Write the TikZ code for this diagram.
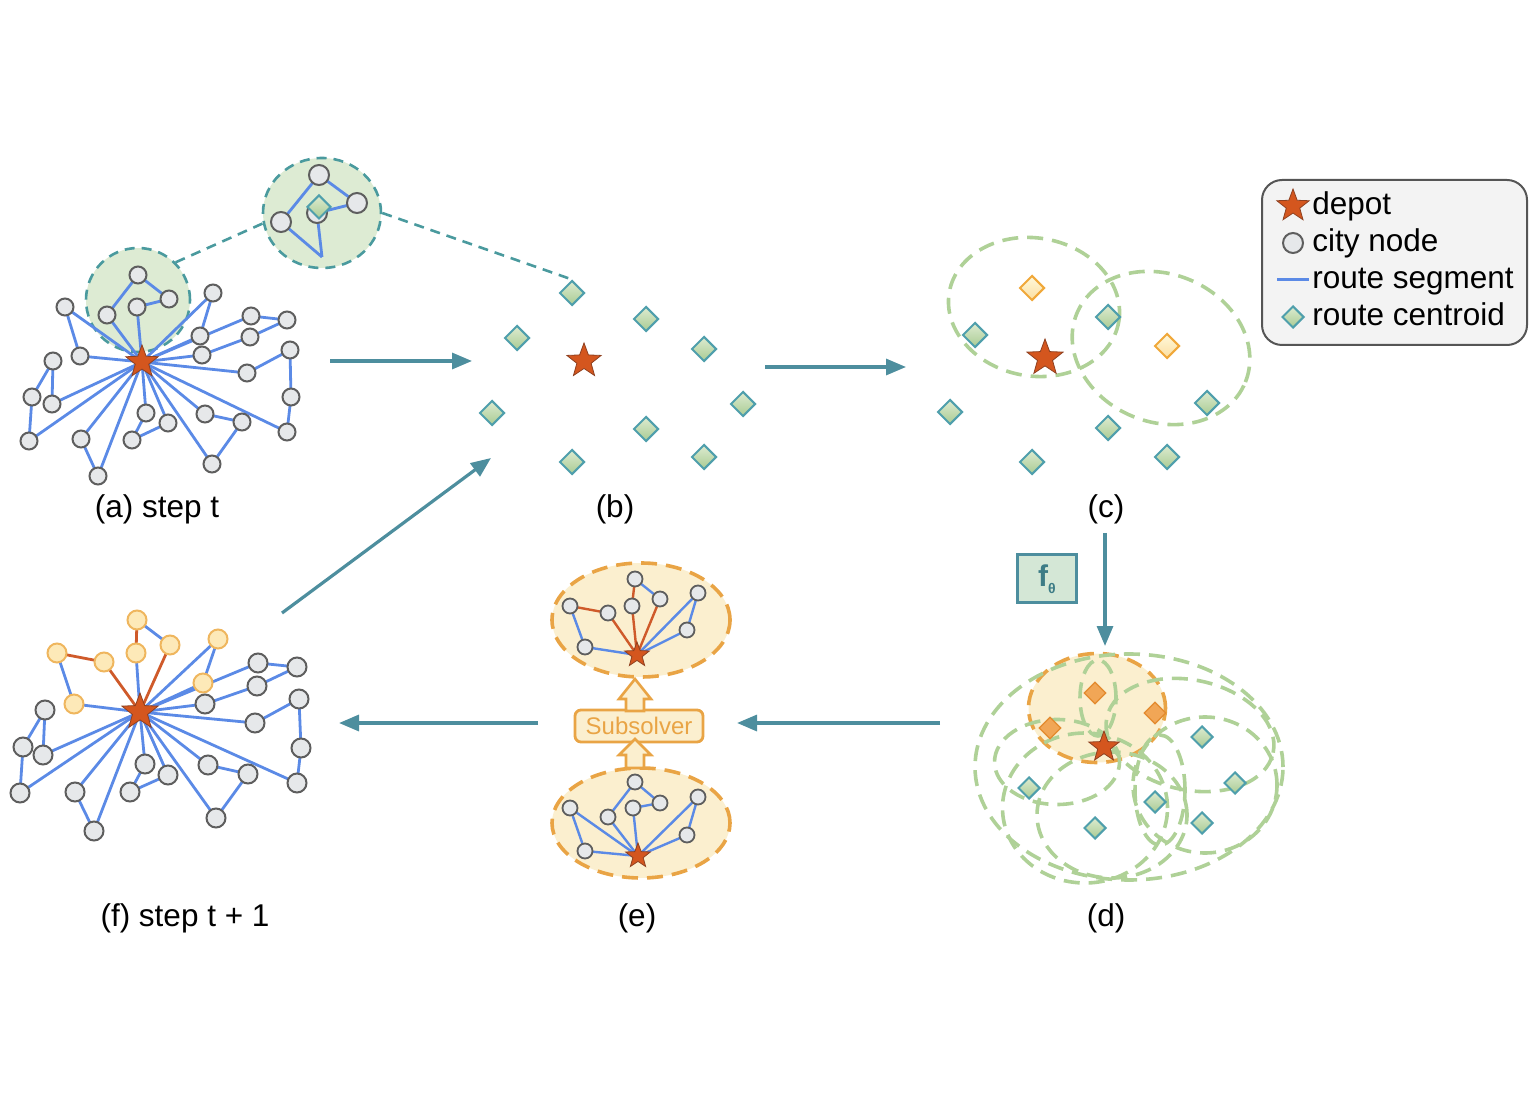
\documentclass[tikz,border=0pt]{standalone}
\usepackage{fontspec}
\setmainfont{Liberation Sans}
\usetikzlibrary{shapes.geometric,arrows.meta}
\pgfdeclarelayer{back}
\pgfdeclarelayer{bg}
\pgfsetlayers{back,bg,main}
\definecolor{flowc}{HTML}{4D8E9E}
\definecolor{routeblue}{HTML}{5B8AE6}
\definecolor{redroute}{HTML}{CF5A2A}
\definecolor{starfill}{HTML}{D4561E}
\definecolor{stardraw}{HTML}{8E4020}
\definecolor{cityfill}{HTML}{E6E8EA}
\definecolor{citydraw}{HTML}{5E5E5E}
\definecolor{dtop}{HTML}{DDEBD0}
\definecolor{dbot}{HTML}{A9CB93}
\definecolor{ddraw}{HTML}{4F9FAC}
\definecolor{clgreen}{HTML}{DDEBD3}
\definecolor{cldash}{HTML}{4A9A9E}
\definecolor{lgdash}{HTML}{AFD197}
\definecolor{ofill}{HTML}{FBEFCF}
\definecolor{odraw}{HTML}{E9A445}
\definecolor{lotop}{HTML}{FFF8DC}
\definecolor{lobot}{HTML}{FBDFA0}
\definecolor{lodraw}{HTML}{F0A83A}
\definecolor{dofill}{HTML}{F1A656}
\definecolor{dodraw}{HTML}{E38A2E}
\definecolor{ocfill}{HTML}{FDE9B8}
\definecolor{ocdraw}{HTML}{EFB65E}
\definecolor{legfill}{HTML}{F3F3F3}
\definecolor{legdraw}{HTML}{555555}
\definecolor{fbfill}{HTML}{D4E7D6}
\definecolor{fbtext}{HTML}{3C7C86}
\begin{document}
\begin{tikzpicture}[x=0.5pt,y=-0.5pt,
  city/.style={circle,draw=citydraw,fill=cityfill,line width=1pt,minimum size=8.5pt,inner sep=0pt},
  citye/.style={city,minimum size=7.5pt,line width=0.9pt},
  cityf/.style={city,minimum size=9.5pt},
  cityo/.style={cityf,draw=ocdraw,fill=ocfill},
  cityi/.style={city,minimum size=10pt},
  depot/.style={star,star points=5,star point ratio=2.4,fill=starfill,draw=stardraw,line width=0.4pt,inner sep=0pt,minimum size=#1},
  depot/.default=16pt,
  cent/.style={diamond,aspect=1,inner sep=0pt,minimum size=#1,draw=ddraw,line width=1pt,top color=dtop,bottom color=dbot},
  cent/.default=12.5pt,
  centlo/.style={diamond,aspect=1,inner sep=0pt,minimum size=12.5pt,draw=lodraw,line width=1pt,top color=lotop,bottom color=lobot},
  centdo/.style={diamond,aspect=1,inner sep=0pt,minimum size=11pt,draw=dodraw,line width=0.6pt,fill=dofill},
  route/.style={draw=routeblue,line width=1.4pt},
  rroute/.style={draw=redroute,line width=1.4pt},
  flow/.style={draw=flowc,line width=1.6pt,-{Triangle[length=10pt,width=8pt]}},
  gdash/.style={ellipse,draw=lgdash,line width=1.8pt,dash pattern=on 8pt off 4.5pt,inner sep=0pt},
  tdash/.style={draw=cldash,line width=1.3pt,dash pattern=on 5pt off 3.5pt},
  lbl/.style={font=\fontsize{15.75}{18}\selectfont,anchor=base,inner sep=0pt},
  legt/.style={font=\fontsize{15.75}{18}\selectfont,anchor=base west,inner sep=0pt},
  blockarr/.style={draw=odraw,fill=ofill,line width=1.3pt,line join=miter}
]
\useasboundingbox (0,0) rectangle (1535,1095);

% ================= (a) =================
\begin{pgfonlayer}{back}
\node[circle,fill=clgreen,draw=cldash,line width=1.3pt,dash pattern=on 5pt off 3.5pt,minimum size=52pt,inner sep=0pt] (acl) at (138,300) {};
\node[ellipse,fill=clgreen,draw=cldash,line width=1.3pt,dash pattern=on 5pt off 3.5pt,minimum width=59pt,minimum height=55pt,inner sep=0pt] (icl) at (322,213) {};
\end{pgfonlayer}
\node[depot=17pt] (as) at (142,362) {};
\node[city] (a1) at (138,275) {};
\node[city] (a2) at (169,299) {};
\node[city] (a3) at (137,307) {};
\node[city] (a4) at (107,315) {};
\node[city] (a5) at (65,307) {};
\node[city] (a6) at (80,356) {};
\node[city] (a7) at (53,361) {};
\node[city] (a8) at (32,397) {};
\node[city] (a9) at (52,404) {};
\node[city] (a10) at (29,441) {};
\node[city] (a11) at (81,439) {};
\node[city] (a12) at (98,476) {};
\node[city] (a13) at (146,413) {};
\node[city] (a14) at (168,423) {};
\node[city] (a15) at (132,440) {};
\node[city] (a16) at (205,414) {};
\node[city] (a17) at (242,422) {};
\node[city] (a18) at (212,464) {};
\node[city] (a19) at (213,293) {};
\node[city] (a20) at (200,336) {};
\node[city] (a21) at (202,355) {};
\node[city] (a22) at (251,316) {};
\node[city] (a23) at (287,320) {};
\node[city] (a24) at (250,337) {};
\node[city] (a25) at (290,350) {};
\node[city] (a26) at (247,373) {};
\node[city] (a27) at (291,397) {};
\node[city] (a28) at (287,432) {};
\begin{pgfonlayer}{bg}
\foreach \u/\v in {as/a3,a3/a2,a2/a1,a1/a4,a4/as, as/a6,a6/a5,a5/as,
  as/a9,a9/a7,a7/a8,a8/a10,a10/as, as/a11,a11/a12,a12/as,
  as/a13,a13/a15,a15/a14,a14/as, as/a16,a16/a17,a17/a18,a18/as,
  as/a26,a26/a25,a25/a27,a27/a28,a28/as, as/a19,a19/a20,a20/as,
  as/a21,a21/a24,a24/a23,a23/a22,a22/as}
  \draw[route] (\u.center) -- (\v.center);
\end{pgfonlayer}
\node[lbl] (la) at (157,518) {(a) step t};

% inset
\node[cityi] (i1) at (281,222) {};
\node[cityi] (i2) at (319,175) {};
\node[cityi] (i3) at (357,203) {};
\node[cityi] (i4) at (317,213) {};
\coordinate (ic) at (322,257);
\node[cent=12pt] (id) at (319,207) {};
\begin{pgfonlayer}{bg}
\foreach \u/\v in {i1/i2,i2/i3,i3/i4,i4/ic,ic/i1}
  \draw[route] (\u.center) -- (\v.center);
\end{pgfonlayer}

% ================= (b) =================
\node[depot=18pt] (bs) at (584,361) {};
\node[cent] (b1) at (572,293) {};
\node[cent] (b2) at (517,338) {};
\node[cent] (b3) at (646,319) {};
\node[cent] (b4) at (704,349) {};
\node[cent] (b5) at (492,413) {};
\node[cent] (b6) at (646,429) {};
\node[cent] (b7) at (743,404) {};
\node[cent] (b8) at (572,462) {};
\node[cent] (b9) at (704,457) {};
\node[lbl] (lb) at (615,518) {(b)};

\draw[tdash] (acl.45) -- (icl.190);
\draw[tdash] (icl.east) -- (b1.north);

% ================= (c) =================
\begin{pgfonlayer}{bg}
\node[gdash,minimum width=86pt,minimum height=69pt,rotate=-10] (ce1) at (1034,307) {};
\node[gdash,minimum width=91pt,minimum height=74pt,rotate=-22] (ce2) at (1161,348) {};
\end{pgfonlayer}
\node[depot=19pt] (cs) at (1045,358) {};
\node[centlo] (c1) at (1032,288) {};
\node[cent] (c2) at (975,335) {};
\node[cent] (c3) at (1108,317) {};
\node[centlo] (c4) at (1167,346) {};
\node[cent] (c5) at (950,412) {};
\node[cent] (c6) at (1108,428) {};
\node[cent] (c7) at (1207,403) {};
\node[cent] (c8) at (1032,462) {};
\node[cent] (c9) at (1167,457) {};
\node[lbl] (lc) at (1106,518) {(c)};

% ================= (d) =================
\begin{pgfonlayer}{back}
\node[ellipse,fill=ofill,draw=odraw,line width=1.8pt,dash pattern=on 8pt off 4.5pt,minimum width=68.5pt,minimum height=54.5pt,inner sep=0pt] (dorg) at (1097,708) {};
\end{pgfonlayer}
\begin{pgfonlayer}{bg}
\node[gdash,minimum width=154pt,minimum height=113pt] (de1) at (1129,767) {};
\node[gdash,minimum width=62.5pt,minimum height=42.5pt] (de2) at (1057,762) {};
\node[gdash,minimum width=75pt,minimum height=63pt] (de3) at (1112,815) {};
\node[gdash,minimum width=72pt,minimum height=68pt] (de4) at (1205,785) {};
\node[gdash,minimum width=85pt,minimum height=55pt,rotate=-12] (de5) at (1190,735) {};
\node[gdash,minimum width=18pt,minimum height=38pt] (de6) at (1098,698) {};
\node[gdash,minimum width=25pt,minimum height=55pt] (de7) at (1160,790) {};
\node[gdash,minimum width=82.5pt,minimum height=75pt] (de8) at (1085,808) {};
\end{pgfonlayer}
\node[centdo] (d1) at (1095,693) {};
\node[centdo] (d2) at (1050,728) {};
\node[centdo] (d3) at (1155,713) {};
\node[depot=16pt] (ds) at (1104,747) {};
\node[cent=11pt] (d4) at (1202,737) {};
\node[cent=11pt] (d5) at (1029,788) {};
\node[cent=11pt] (d6) at (1235,783) {};
\node[cent=11pt] (d7) at (1155,802) {};
\node[cent=11pt] (d8) at (1095,828) {};
\node[cent=11pt] (d9) at (1202,823) {};
\node[lbl] (ld) at (1106,926) {(d)};

\node[draw=flowc,fill=fbfill,line width=1.5pt,minimum width=29.5pt,minimum height=24pt,inner sep=0pt,text=fbtext] (fth) at (1047,579)
  {{\fontsize{15}{17}\selectfont\bfseries f}\raisebox{-3.5pt}{\fontsize{7}{8}\selectfont\bfseries θ}};

% ================= (e) =================
\begin{pgfonlayer}{back}
\node[ellipse,fill=ofill,draw=odraw,line width=1.8pt,dash pattern=on 8pt off 4.5pt,minimum width=89pt,minimum height=57pt,inner sep=0pt] (et) at (641,620) {};
\node[ellipse,fill=ofill,draw=odraw,line width=1.8pt,dash pattern=on 8pt off 4.5pt,minimum width=89pt,minimum height=55pt,inner sep=0pt] (eb) at (641,823) {};
\end{pgfonlayer}
\node[depot=13pt] (es) at (637,655) {};
\node[citye] (e1) at (635,579) {};
\node[citye] (e2) at (660,599) {};
\node[citye] (e3) at (632,606) {};
\node[citye] (e4) at (570,606) {};
\node[citye] (e5) at (608,613) {};
\node[citye] (e6) at (585,647) {};
\node[citye] (e7) at (698,593) {};
\node[citye] (e8) at (687,630) {};
\node[depot=13pt] (gs) at (638,856) {};
\node[citye] (g1) at (635,782) {};
\node[citye] (g2) at (660,803) {};
\node[citye] (g3) at (633,808) {};
\node[citye] (g4) at (608,817) {};
\node[citye] (g5) at (570,808) {};
\node[citye] (g6) at (585,851) {};
\node[citye] (g7) at (698,797) {};
\node[citye] (g8) at (687,835) {};
\begin{pgfonlayer}{bg}
\foreach \u/\v in {e4/e6,e6/es,e1/e2,es/e7,e7/e8,e8/es,
  gs/g5,g5/g6,g6/gs,gs/g4,g4/g1,g1/g2,g2/g3,g3/gs,gs/g7,g7/g8,g8/gs}
  \draw[route,line width=1.2pt] (\u.center) -- (\v.center);
\foreach \u/\v in {e4/e5,e5/es,e1/e3,e2/es,e3/es}
  \draw[rroute,line width=1.2pt] (\u.center) -- (\v.center);
\end{pgfonlayer}
\node[draw=odraw,fill=ofill,line width=1.4pt,rounded corners=3pt,minimum width=64pt,minimum height=16pt,inner sep=0pt,text=odraw,font=\fontsize{12}{14}\selectfont] (sub) at (639,726) {Subsolver};
\draw[blockarr] (635,679) -- (651,699) -- (644,699) -- (644,711) -- (626,711) -- (626,699) -- (619,699) -- cycle;
\draw[blockarr] (635,739) -- (651,755) -- (644,755) -- (644,768) -- (626,768) -- (626,755) -- (619,755) -- cycle;
\node[lbl] (le) at (637,926) {(e)};

% ================= (f) =================
\node[depot=19pt] (fs) at (140,712) {};
\node[cityo] (fo1) at (137,620) {};
\node[cityo] (fo2) at (170,645) {};
\node[cityo] (fo3) at (136,653) {};
\node[cityo] (fo4) at (57,653) {};
\node[cityo] (fo5) at (104,662) {};
\node[cityo] (fo6) at (74,704) {};
\node[cityo] (fo7) at (218,639) {};
\node[cityo] (fo8) at (203,683) {};
\node[cityf] (f1) at (205,704) {};
\node[cityf] (f2) at (258,663) {};
\node[cityf] (f3) at (297,667) {};
\node[cityf] (f4) at (257,686) {};
\node[cityf] (f5) at (299,699) {};
\node[cityf] (f6) at (255,723) {};
\node[cityf] (f7) at (301,748) {};
\node[cityf] (f8) at (297,783) {};
\node[cityf] (f9) at (208,765) {};
\node[cityf] (f10) at (248,774) {};
\node[cityf] (f11) at (216,818) {};
\node[cityf] (f12) at (145,764) {};
\node[cityf] (f13) at (168,775) {};
\node[cityf] (f14) at (130,792) {};
\node[cityf] (f15) at (75,792) {};
\node[cityf] (f16) at (94,831) {};
\node[cityf] (f17) at (45,710) {};
\node[cityf] (f18) at (23,747) {};
\node[cityf] (f19) at (43,755) {};
\node[cityf] (f20) at (20,793) {};
\begin{pgfonlayer}{bg}
\foreach \u/\v in {fo4/fo6,fo6/fs,fo1/fo2,fo3/fs,fs/fo7,fo7/fo8,fo8/fs,
  fs/f1,f1/f4,f4/f3,f3/f2,f2/fs, fs/f6,f6/f5,f5/f7,f7/f8,f8/fs,
  fs/f9,f9/f10,f10/f11,f11/fs, fs/f12,f12/f14,f14/f13,f13/fs,
  fs/f15,f15/f16,f16/fs, fs/f19,f19/f17,f17/f18,f18/f20,f20/fs}
  \draw[route] (\u.center) -- (\v.center);
\foreach \u/\v in {fo4/fo5,fo5/fs,fo1/fo3,fo2/fs}
  \draw[rroute] (\u.center) -- (\v.center);
\end{pgfonlayer}
\node[lbl] (lf) at (185,926) {(f) step t + 1};

% ================= flow arrows =================
\coordinate (ab1) at (330,361); \coordinate (ab2) at (472,361);
\coordinate (bc1) at (765,367); \coordinate (bc2) at (906,367);
\coordinate (cd1) at (1105,533); \coordinate (cd2) at (1105,646);
\coordinate (de1s) at (940,723); \coordinate (de2s) at (737,723);
\coordinate (ef1) at (538,723); \coordinate (ef2) at (339,723);
\coordinate (fb1) at (282,613); \coordinate (fb2) at (491,458);
\draw[flow] (ab1) -- (ab2);
\draw[flow] (bc1) -- (bc2);
\draw[flow] (cd1) -- (cd2);
\draw[flow] (de1s) -- (de2s);
\draw[flow] (ef1) -- (ef2);
\draw[flow] (fb1) -- (fb2);

% ================= legend =================
\node[draw=legdraw,fill=legfill,line width=1pt,rounded corners=10pt,minimum width=132.5pt,minimum height=82.5pt,inner sep=0pt] (leg) at (1394.5,262.5) {};
\node[depot=17pt] (ls) at (1293,206) {};
\node[city,minimum size=10pt] (lcn) at (1293,243) {};
\coordinate (ll1) at (1277,280); \coordinate (ll2) at (1309,280);
\draw[route,line width=1.5pt] (ll1) -- (ll2);
\node[cent=11pt] (ldm) at (1293,317) {};
\node[legt] (lt1) at (1312,215) {depot};
\node[legt] (lt2) at (1312,252) {city node};
\node[legt] (lt3) at (1312,289) {route segment};
\node[legt] (lt4) at (1312,326) {route centroid};
\end{tikzpicture}
\end{document}
